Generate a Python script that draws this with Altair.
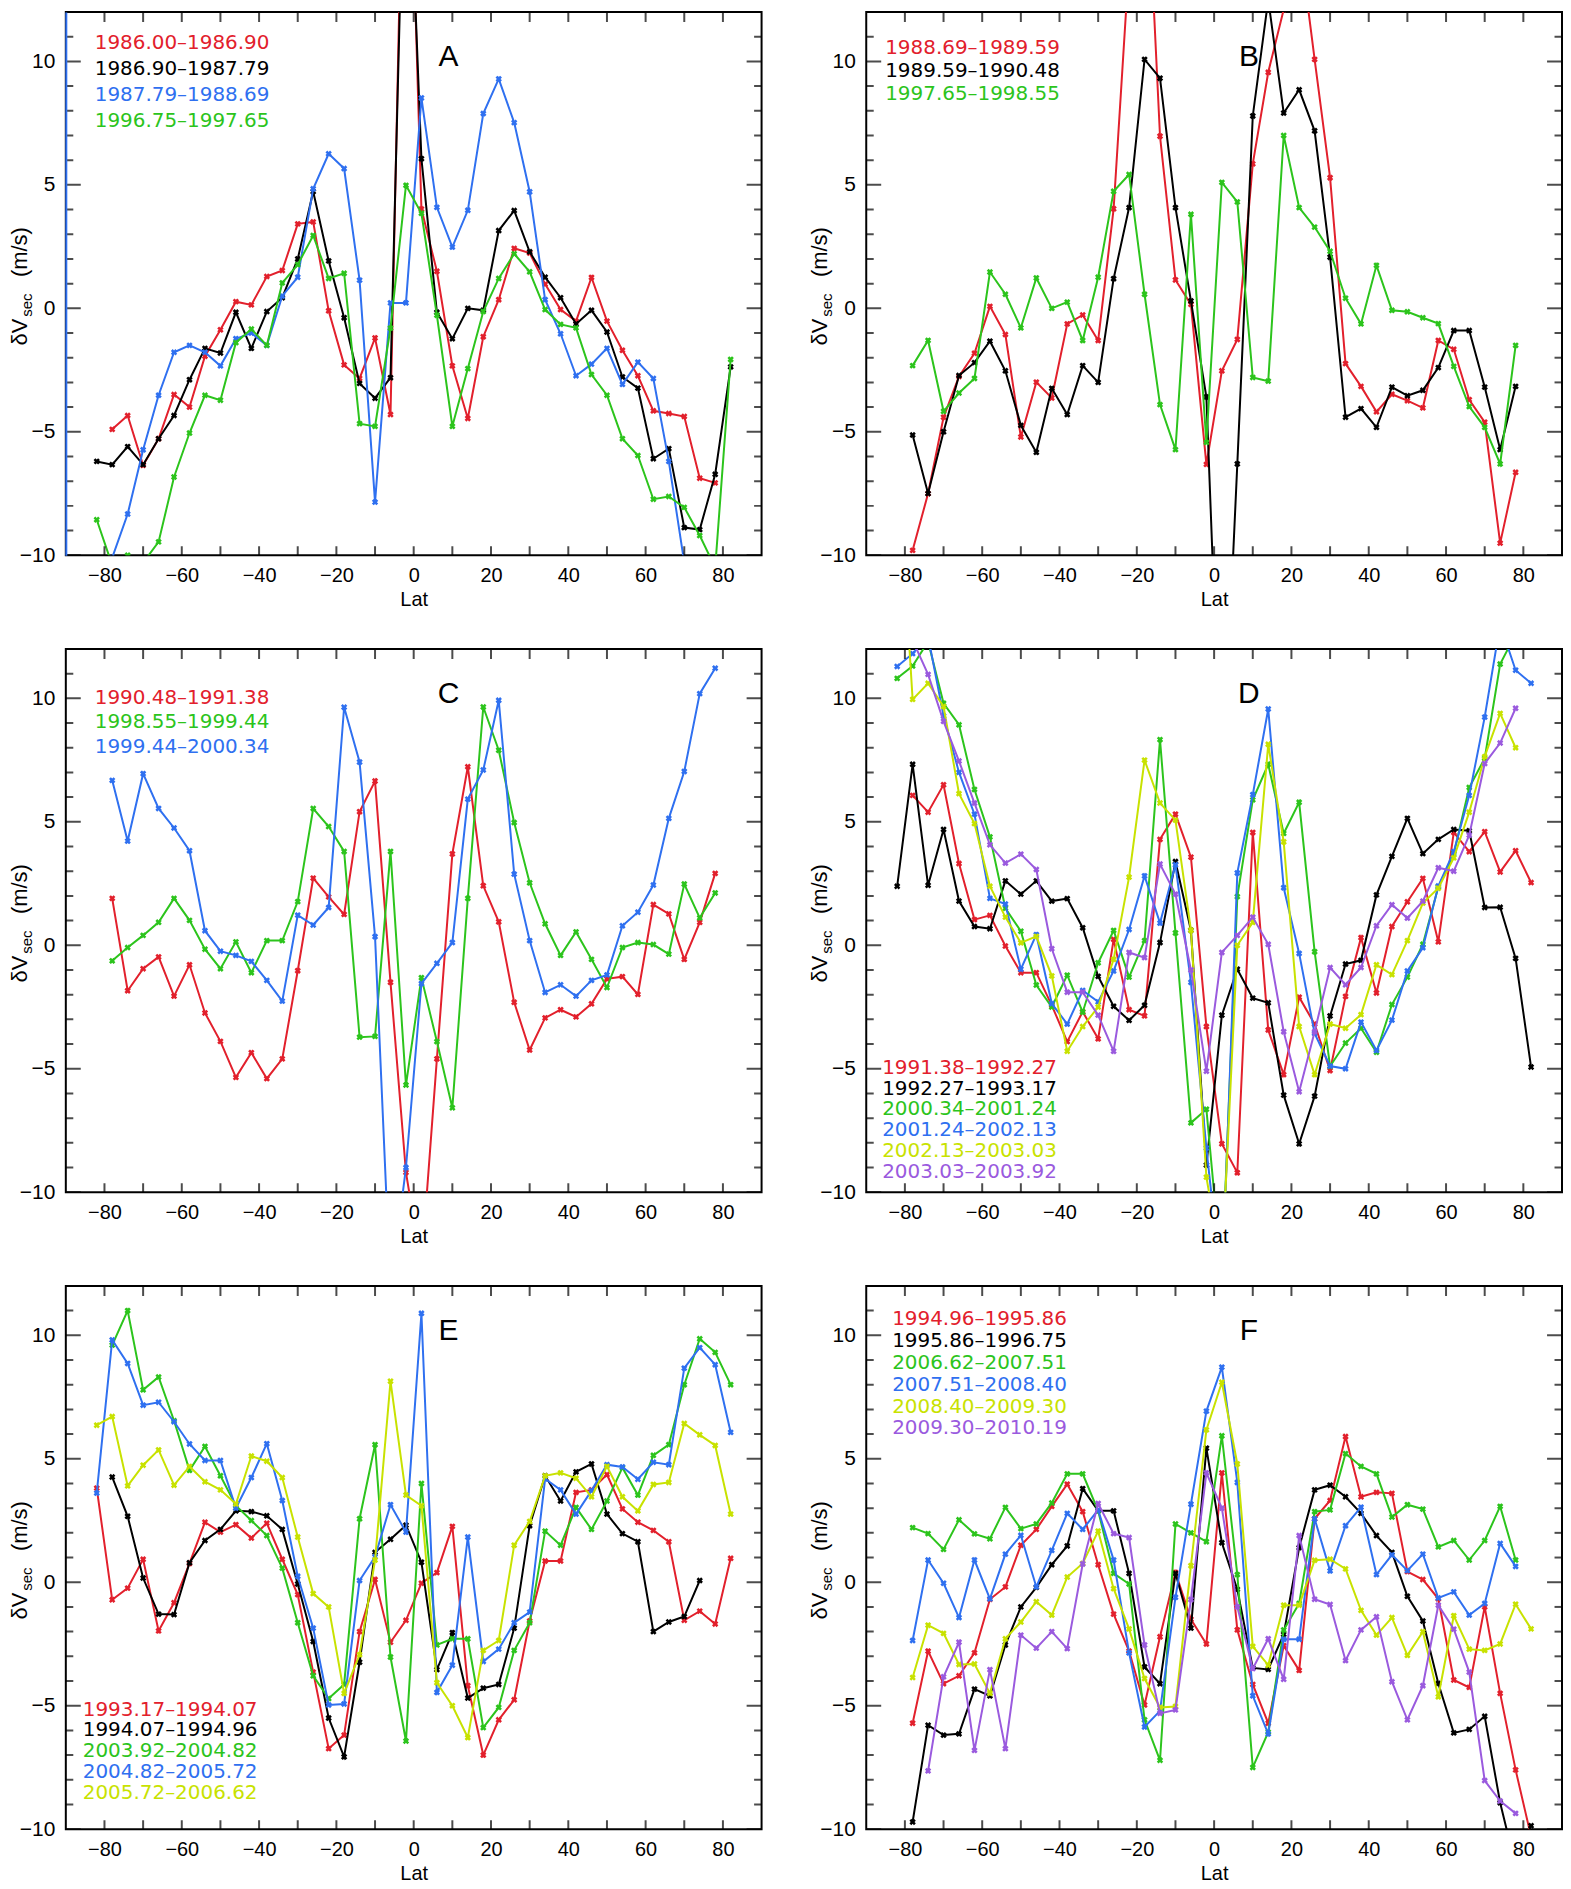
import altair as alt
import pandas as pd

# ---------------- data ----------------
LAT = [-82, -78, -74, -70, -66, -62, -58, -54, -50, -46, -42, -38, -34, -30, -26, -22, -18, -14, -10, -6, -2,
       2, 6, 10, 14, 18, 22, 26, 30, 34, 38, 42, 46, 50, 54, 58, 62, 66, 70, 74, 78, 82]

Y_TICKS = [-10, -9, -8, -7, -6, -5, -4, -3, -2, -1, 0, 1, 2, 3, 4, 5, 6, 7, 8, 9, 10, 11, 12]
Y_LABELS = [-10, -5, 0, 5, 10]
X_TICKS = [-80, -70, -60, -50, -40, -30, -20, -10, 0, 10, 20, 30, 40, 50, 60, 70, 80]
X_LABELS = [-80, -60, -40, -20, 0, 20, 40, 60, 80]

RED = "#e2202c"
BLACK = "#000000"
BLUE = "#2f70f0"
GREEN = "#2cc41c"
YELLOW = "#c8e200"
PURPLE = "#9a5ade"

# Panel A
A_LABELS = ["1986.00–1986.90", "1986.90–1987.79", "1987.79–1988.69", "1996.75–1997.65"]
A_RED = [None, -4.9, -4.34, -6.36, -5.28, -3.49, -4.0, -1.94, -0.87, 0.27, 0.14, 1.29, 1.53, 3.42, 3.5, -0.1, -2.29,
         -2.84, -1.2, -4.3, 25, 4.02, 1.5, -2.33, -4.46, -1.15, 0.35, 2.43, 2.24, 0.98, -0.05, -0.52, 1.25, -0.52,
         -1.7, -2.73, -4.15, -4.26, -4.38, -6.88, -7.07, None]
A_BLACK = [-6.2, -6.33, -5.6, -6.33, -5.28, -4.34, -2.89, -1.62, -1.81, -0.16, -1.62, -0.13, 0.43, 2.0, 4.73, 1.92,
           -0.38, -3.04, -3.64, -2.81, 22, 6.06, -0.16, -1.23, 0.0, -0.08, 3.15, 3.96, 2.29, 1.26, 0.43, -0.63, -0.08,
           -0.96, -2.78, -3.23, -6.09, -5.68, -8.88, -8.96, -6.72, -2.37]
A_BLUE = [-12, -10.1, -8.33, -5.73, -3.52, -1.78, -1.5, -1.78, -2.33, -1.23, -1.0, -1.5, 0.5, 1.26, 4.84, 6.26, 5.66,
          1.14, -7.85, 0.22, 0.22, 8.52, 4.09, 2.48, 3.97, 7.89, 9.29, 7.52, 4.72, 0.35, -1.03, -2.73, -2.26, -1.62,
          -3.08, -2.18, -2.84, -6.2, -10.3, None, None, None]
A_GREEN = [-8.56, -10.4, -10.0, -10.3, -9.46, -6.83, -5.05, -3.52, -3.72, -1.39, -0.84, -1.5, 1.03, 1.77, 2.95, 1.21,
           1.42, -4.67, -4.78, -0.8, 4.98, 3.85, -0.28, -4.78, -2.44, -0.13, 1.21, 2.21, 1.48, -0.05, -0.65, -0.79,
           -2.68, -3.52, -5.28, -5.96, -7.73, -7.62, -8.06, -9.2, -10.5, -2.07]

# Panel B
B_LABELS = ["1988.69–1989.59", "1989.59–1990.48", "1997.65–1998.55"]
B_RED = [None, -9.8, -7.5, -4.41, -2.76, -1.82, 0.08, -1.06, -5.21, -2.99, -3.63, -0.63, -0.27, -1.3, 4.03, 14, 20,
         6.97, 1.15, 0.16, -6.32, -2.53, -1.26, 5.85, 9.56, 12.1, 15, 10.08, 5.29, -2.24, -3.16, -4.19, -3.48, -3.74,
         -4.03, -1.3, -1.66, -3.7, -4.61, -9.51, -6.64, None]
B_BLACK = [None, -5.13, -7.5, -5.0, -2.72, -2.2, -1.33, -2.53, -4.74, -5.83, -3.24, -4.3, -2.32, -3.0, 1.2, 4.08,
           10.08, 9.32, 4.08, 0.3, -3.59, -20, -6.3, 7.79, 12.5, 7.91, 8.85, 7.19, 2.07, -4.41, -4.06, -4.82, -3.19,
           -3.54, -3.32, -2.4, -0.9, -0.9, -3.19, -5.72, -3.16, None]
B_GREEN = [None, -2.32, -1.3, -4.17, -3.43, -2.84, 1.47, 0.57, -0.79, 1.23, 0.0, 0.25, -1.3, 1.26, 4.74, 5.42, 0.57,
           -3.9, -5.72, 3.81, -5.43, 5.1, 4.31, -2.8, -2.95, 7.0, 4.08, 3.29, 2.31, 0.41, -0.63, 1.74, -0.08, -0.14,
           -0.38, -0.62, -2.35, -3.98, -4.82, -6.3, -1.5, None]

# Panel C
C_LABELS = ["1990.48–1991.38", "1998.55–1999.44", "1999.44–2000.34"]
C_RED = [None, 1.9, -1.84, -0.95, -0.47, -2.06, -0.79, -2.74, -3.89, -5.35, -4.35, -5.4, -4.6, -1.03, 2.72, 1.96,
         1.25, 5.41, 6.65, -1.5, -9.2, -13, -4.6, 3.7, 7.23, 2.41, 0.95, -2.31, -4.24, -2.94, -2.61, -2.9, -2.37,
         -1.36, -1.27, -1.99, 1.65, 1.27, -0.57, 0.93, 2.91, None]
C_GREEN = [None, -0.63, -0.09, 0.4, 0.93, 1.9, 1.01, -0.16, -0.95, 0.14, -1.11, 0.19, 0.19, 1.77, 5.54, 4.81, 3.8,
           -3.72, -3.69, 3.8, -5.66, -1.31, -3.9, -6.58, 1.9, 9.65, 7.9, 4.97, 2.53, 0.87, -0.41, 0.54, -0.57, -1.71,
           -0.09, 0.11, 0.03, -0.36, 2.48, 1.11, 2.12, None]
C_BLUE = [None, 6.68, 4.22, 6.95, 5.54, 4.75, 3.83, 0.59, -0.24, -0.41, -0.65, -1.42, -2.26, 1.22, 0.82, 1.53, 9.64,
          7.42, 0.35, -14, -9.0, -1.55, -0.73, 0.11, 5.92, 7.1, 9.92, 2.88, 0.19, -1.91, -1.6, -2.06, -1.42, -1.2,
          0.79, 1.34, 2.44, 5.14, 7.04, 10.19, 11.22, None]

# Panel D
D_LABELS = ["1991.38–1992.27", "1992.27–1993.17", "2000.34–2001.24", "2001.24–2002.13", "2002.13–2003.03",
            "2003.03–2003.92"]
D_RED = [None, 6.07, 5.39, 6.5, 3.31, 1.04, 1.21, -0.03, -1.11, -1.11, -2.43, -3.9, -2.69, -3.79, 0.24, -2.61, -2.86,
         4.29, 5.31, 3.57, -3.29, -8.04, -9.21, 4.57, -3.43, -5.24, -2.1, -3.19, -5.07, -2.07, 0.31, -1.93, 0.76,
         1.76, 2.71, 0.14, 4.57, 3.79, 4.6, 2.97, 3.83, 2.54]
D_BLACK = [2.39, 7.33, 2.43, 4.69, 1.79, 0.76, 0.67, 2.61, 2.07, 2.61, 1.79, 1.89, 0.71, -1.26, -2.47, -3.04, -2.43,
           0.11, 3.39, 0.61, -8.9, -2.83, -0.97, -2.14, -2.33, -6.07, -8.04, -6.11, -2.86, -0.76, -0.61, 2.04, 3.6,
           5.14, 3.71, 4.29, 4.69, 4.64, 1.53, 1.54, -0.53, -4.93]
D_GREEN = [10.81, 11.31, 12.3, 9.8, 8.93, 6.31, 4.39, 1.5, 0.57, -1.61, -2.5, -1.21, -2.71, -0.71, 0.6, -1.29, 0.19,
           8.33, 0.5, -7.19, -6.64, -13.4, 1.97, 5.89, 7.33, 4.53, 5.79, -0.26, -4.9, -3.96, -3.36, -4.33, -2.4,
           -1.29, 0.04, 2.36, 3.71, 6.39, 7.57, 11.39, 12.6, None]
D_BLUE = [11.29, 11.81, 12.5, 9.29, 7.0, 5.31, 1.9, 1.67, -0.97, 0.43, -2.36, -3.19, -1.83, -2.29, -1.04, 0.64, 2.81,
          0.9, 3.26, -1.5, -8.21, -14, 2.93, 6.1, 9.57, 2.33, -0.33, -3.57, -4.89, -5.0, -3.11, -4.26, -3.03, -1.04,
          -0.1, 2.4, 3.79, 6.07, 9.24, 13, 11.14, 10.61]
D_YELLOW = [20, 9.96, 10.61, 9.67, 6.14, 4.93, 2.39, 1.14, 0.1, 0.36, -1.24, -4.29, -3.29, -2.5, -0.57, 2.76, 7.5,
            5.76, 5.07, 0.61, -9.39, -13, 0.0, 0.93, 8.14, 4.19, -3.29, -5.24, -3.19, -3.36, -2.81, -0.79, -1.19,
            0.19, 1.71, 2.31, 3.54, 5.39, 7.64, 9.39, 8.0, None]
D_PURPLE = [None, 12.35, 10.97, 9.07, 7.46, 5.76, 4.07, 3.33, 3.69, 3.07, -0.14, -1.9, -1.9, -2.83, -4.29, -0.29, -0.5,
            3.29, 2.07, -1.0, -5.1, -0.29, 0.4, 1.14, 0.04, -3.5, -5.93, -3.5, -0.9, -1.6, -0.9, 0.79, 1.64, 1.1,
            1.79, 3.14, 3.0, 4.46, 7.36, 8.19, 9.6, None]

# Panel E
E_LABELS = ["1993.17–1994.07", "1994.07–1994.96", "2003.92–2004.82", "2004.82–2005.72", "2005.72–2006.62"]
E_RED = [3.81, -0.71, -0.24, 0.93, -1.97, -0.83, 0.76, 2.43, 2.03, 2.33, 1.79, 2.39, 0.93, -0.5, -3.64, -6.74, -6.19,
         -2.0, 0.11, -2.43, -1.54, -0.04, 0.39, 2.26, -4.19, -7.0, -5.57, -4.76, -1.57, 0.86, 0.86, 3.64, 3.74, 4.36,
         2.97, 2.43, 2.1, 1.64, -1.54, -1.17, -1.69, 0.97]
E_BLACK = [None, 4.26, 2.67, 0.17, -1.29, -1.31, 0.79, 1.69, 2.14, 2.89, 2.86, 2.69, 2.14, -0.07, -2.4, -5.5, -7.07,
           -3.24, 1.21, 1.74, 2.31, 0.81, -3.54, -2.04, -4.69, -4.29, -4.14, -1.86, 2.29, 4.31, 3.29, 4.47, 4.79,
           2.76, 1.97, 1.64, -2.0, -1.61, -1.39, 0.07, None, None]
E_GREEN = [None, 9.6, 11.0, 7.79, 8.31, 6.54, 4.53, 5.5, 4.31, 3.1, 2.5, 1.89, 0.57, -1.64, -3.79, -4.71, -4.14, 2.57,
           5.57, -3.03, -6.43, 4.0, -2.54, -2.29, -2.29, -5.89, -5.07, -2.76, -1.64, 2.07, 1.5, 3.03, 2.14, 3.29,
           4.64, 3.53, 5.14, 5.57, 8.0, 9.86, 9.31, 8.0]
E_BLUE = [3.61, 9.81, 8.86, 7.17, 7.29, 6.5, 5.6, 4.93, 4.93, 3.0, 4.24, 5.61, 3.31, 0.24, -1.86, -4.97, -4.93, 0.07,
          1.03, 3.14, 2.03, 10.89, -4.46, -3.36, 1.83, -3.21, -2.71, -1.64, -1.21, 4.19, 3.74, 2.76, 3.71, 4.76, 4.67,
          4.17, 4.86, 4.76, 8.67, 9.5, 8.81, 6.07]
E_YELLOW = [6.36, 6.71, 3.9, 4.74, 5.36, 3.93, 4.69, 4.07, 3.74, 3.17, 5.11, 4.9, 4.24, 1.83, -0.46, -1.0, -4.5, -2.93,
            0.9, 8.14, 3.53, 3.1, -4.07, -5.0, -6.29, -2.76, -2.36, 1.5, 2.46, 4.31, 4.43, 4.21, 3.46, 4.69, 3.46,
            2.89, 3.96, 4.04, 6.43, 5.97, 5.54, 2.76]

# Panel F
F_LABELS = ["1994.96–1995.86", "1995.86–1996.75", "2006.62–2007.51", "2007.51–2008.40", "2008.40–2009.30",
            "2009.30–2010.19"]
F_RED = [None, -5.71, -2.79, -4.11, -3.79, -2.86, -0.69, -0.19, 1.5, 2.14, 3.07, 3.97, 2.86, 0.71, -1.29, -2.79,
         -4.97, -2.21, 0.4, -1.5, -2.5, 4.43, -1.93, -4.14, -5.71, -2.57, -3.57, 2.57, 3.31, 5.9, 3.46, 3.64, 3.6,
         0.43, 0.11, -0.67, -3.96, -4.26, -1.0, -4.5, -7.6, -10.3]
F_BLACK = [None, -9.71, -5.79, -6.19, -6.14, -4.33, -4.6, -2.54, -1.0, -0.21, 0.71, 1.47, 3.79, 2.89, 2.89, 0.36,
           -3.43, -4.11, 0.36, -1.86, 5.43, 1.6, -0.29, -3.47, -3.53, -2.11, 1.4, 3.74, 3.93, 3.46, 2.79, 1.89, 1.21,
           -0.57, -1.57, -4.1, -6.1, -5.96, -5.43, -8.93, -11.5, -9.86]
F_GREEN = [None, 2.21, 1.97, 1.33, 2.53, 1.96, 1.76, 3.03, 2.17, 2.36, 3.21, 4.39, 4.39, 2.89, 0.36, -0.07, -5.57,
           -7.21, 2.36, 2.0, 1.64, 5.93, 0.31, -7.5, -6.07, -1.93, -0.86, 2.86, 2.93, 5.21, 4.69, 4.39, 2.64, 3.14,
           2.96, 1.43, 1.69, 0.9, 1.69, 3.07, 0.9, None]
F_BLUE = [None, -2.36, 0.9, -0.04, -1.43, 0.9, -0.67, 1.14, 1.9, -0.19, 1.29, 2.79, 2.14, 2.93, 0.9, -2.86, -5.86,
          -5.21, -0.61, 3.16, 6.93, 8.71, 4.04, -4.6, -6.14, -2.31, -2.31, 2.57, 0.46, 2.29, 3.04, 0.31, 1.11, 0.47,
          1.14, -0.64, -0.39, -1.33, -0.86, 1.57, 0.64, None]
F_YELLOW = [None, -3.86, -1.74, -2.07, -3.33, -3.31, -4.5, -2.29, -1.61, -0.79, -1.33, 0.21, 0.76, 2.07, -0.26, -1.89,
            -3.9, -5.07, -5.03, 0.67, 6.17, 8.1, 4.79, -2.6, -3.36, -0.93, -0.93, 0.89, 0.93, 0.54, -1.14, -2.14,
            -1.43, -2.96, -2.0, -4.64, -1.36, -2.71, -2.76, -2.5, -0.89, -1.89]
F_PURPLE = [None, None, -7.64, -3.83, -2.43, -6.81, -3.54, -6.74, -2.14, -2.67, -2.0, -2.69, 0.74, 3.19, 1.97, 1.81,
            -2.54, -5.31, -5.17, -0.7, 4.43, 3.0, -1.0, -3.5, -2.29, -3.93, 1.89, -0.69, -0.9, -3.17, -1.93, -1.4,
            -4.03, -5.57, -4.19, -0.93, -1.9, -3.64, -8.03, -8.86, -9.36, None]

# ---------------- layout / style ----------------
W, H = 698, 545
FONT = "Liberation Sans"
LEG_FONT = "DejaVu Sans"
LEG_SIZE = 20


def txt(s, x, y, color="black", size=LEG_SIZE, angle=0, align="left", baseline="middle", font=FONT):
    return alt.Chart(pd.DataFrame({"t": [s]})).mark_text(
        align=align, baseline=baseline, font=font, fontSize=size, color=color, angle=angle
    ).encode(x=alt.value(x), y=alt.value(y), text="t:N")


def make_panel(letter, series, leg_x, leg_ys, blue_left=False):
    rows = []
    for label, color, vals in series:
        assert len(vals) == len(LAT), (label, len(vals))
        for lat, v in zip(LAT, vals):
            if v is not None:
                rows.append({"lat": lat, "v": v, "series": label})
    df = pd.DataFrame(rows)

    xs = alt.Scale(domain=[-90, 90], nice=False, zero=False)
    ys = alt.Scale(domain=[-10, 12], nice=False, zero=False)
    xaxis = alt.Axis(values=X_LABELS, tickSize=0, domain=False, grid=False, labelFont=FONT, labelFontSize=20,
                     labelPadding=10, labelColor="black", title="Lat", titleFont=FONT, titleFontSize=20,
                     titleFontWeight="normal", titlePadding=4, titleColor="black", labelFlush=False)
    yargs = dict(values=Y_LABELS, tickSize=0, grid=False, labelFont=FONT, labelFontSize=21, labelPadding=11,
                 labelColor="black", title=None)
    if blue_left:
        yaxis = alt.Axis(domain=True, domainColor=BLUE, domainWidth=2, zindex=1, **yargs)
    else:
        yaxis = alt.Axis(domain=False, **yargs)
    X = alt.X("lat:Q", scale=xs, axis=xaxis)
    Y = alt.Y("v:Q", scale=ys, axis=yaxis)

    layers = []
    for label, color, vals in series:
        sub = df[df["series"] == label]
        layers.append(alt.Chart(sub).mark_line(clip=True, strokeWidth=2, color=color).encode(x=X, y=Y))
        layers.append(alt.Chart(sub).mark_point(shape="cross", angle=45, size=42, filled=True, opacity=1,
                                                clip=True, color=color).encode(x=X, y=Y))

    ytick_df = pd.DataFrame({"v": Y_TICKS, "len": [30 if t % 5 == 0 else 15 for t in Y_TICKS]})
    xtick_df = pd.DataFrame({"lat": X_TICKS})
    tk = dict(clip=True, thickness=2, color="black")
    left = alt.Chart(ytick_df).mark_tick(orient="horizontal", **tk).encode(
        x=alt.value(0), y=Y, size=alt.Size("len:Q", scale=None))
    right = alt.Chart(ytick_df).mark_tick(orient="horizontal", **tk).encode(
        x=alt.value(W), y=Y, size=alt.Size("len:Q", scale=None))
    bottom = alt.Chart(xtick_df).mark_tick(orient="vertical", **tk).encode(x=X, y=alt.value(H), size=alt.value(18))
    top = alt.Chart(xtick_df).mark_tick(orient="vertical", **tk).encode(x=X, y=alt.value(0), size=alt.value(20))

    texts = []
    for (label, color, _), ly in zip(series, leg_ys):
        texts.append(txt(label, leg_x, ly, color=color, font=LEG_FONT))
    texts.append(txt(letter, 0.55 * W, 0.083 * H, size=30, align="center"))
    # y-axis title: δV_sec (m/s)
    texts.append(txt("δV", -46, 0.614 * H, size=22, angle=270))
    texts.append(txt("sec", -39, 0.561 * H, size=15, angle=270))
    texts.append(txt("(m/s)", -46, 0.488 * H, size=22, angle=270))

    return alt.layer(*layers, left, right, bottom, top, *texts).properties(width=W, height=H)


A = make_panel("A", [(A_LABELS[0], RED, A_RED), (A_LABELS[1], BLACK, A_BLACK), (A_LABELS[2], BLUE, A_BLUE),
                     (A_LABELS[3], GREEN, A_GREEN)], 29, [31, 57, 83, 109], blue_left=True)
B = make_panel("B", [(B_LABELS[0], RED, B_RED), (B_LABELS[1], BLACK, B_BLACK), (B_LABELS[2], GREEN, B_GREEN)],
               19, [36, 59, 82])
C = make_panel("C", [(C_LABELS[0], RED, C_RED), (C_LABELS[1], GREEN, C_GREEN), (C_LABELS[2], BLUE, C_BLUE)],
               29, [49, 73, 98])
D = make_panel("D", [(D_LABELS[0], RED, D_RED), (D_LABELS[1], BLACK, D_BLACK), (D_LABELS[2], GREEN, D_GREEN),
                     (D_LABELS[3], BLUE, D_BLUE), (D_LABELS[4], YELLOW, D_YELLOW), (D_LABELS[5], PURPLE, D_PURPLE)],
               16, [420, 441, 462, 483, 504, 525])
E = make_panel("E", [(E_LABELS[0], RED, E_RED), (E_LABELS[1], BLACK, E_BLACK), (E_LABELS[2], GREEN, E_GREEN),
                     (E_LABELS[3], BLUE, E_BLUE), (E_LABELS[4], YELLOW, E_YELLOW)],
               17, [425, 446, 467, 488, 509])
F = make_panel("F", [(F_LABELS[0], RED, F_RED), (F_LABELS[1], BLACK, F_BLACK), (F_LABELS[2], GREEN, F_GREEN),
                     (F_LABELS[3], BLUE, F_BLUE), (F_LABELS[4], YELLOW, F_YELLOW), (F_LABELS[5], PURPLE, F_PURPLE)],
               26, [33, 55, 77, 99, 121, 143])

chart = alt.vconcat(
    alt.hconcat(A, B, spacing=46),
    alt.hconcat(C, D, spacing=46),
    alt.hconcat(E, F, spacing=46),
    spacing=38,
).properties(
    padding={"left": 0, "top": 0, "right": 0, "bottom": 0}
).configure_view(stroke="black", strokeWidth=2)

chart.save("out.html", embed_options={"renderer": "svg", "actions": False})
